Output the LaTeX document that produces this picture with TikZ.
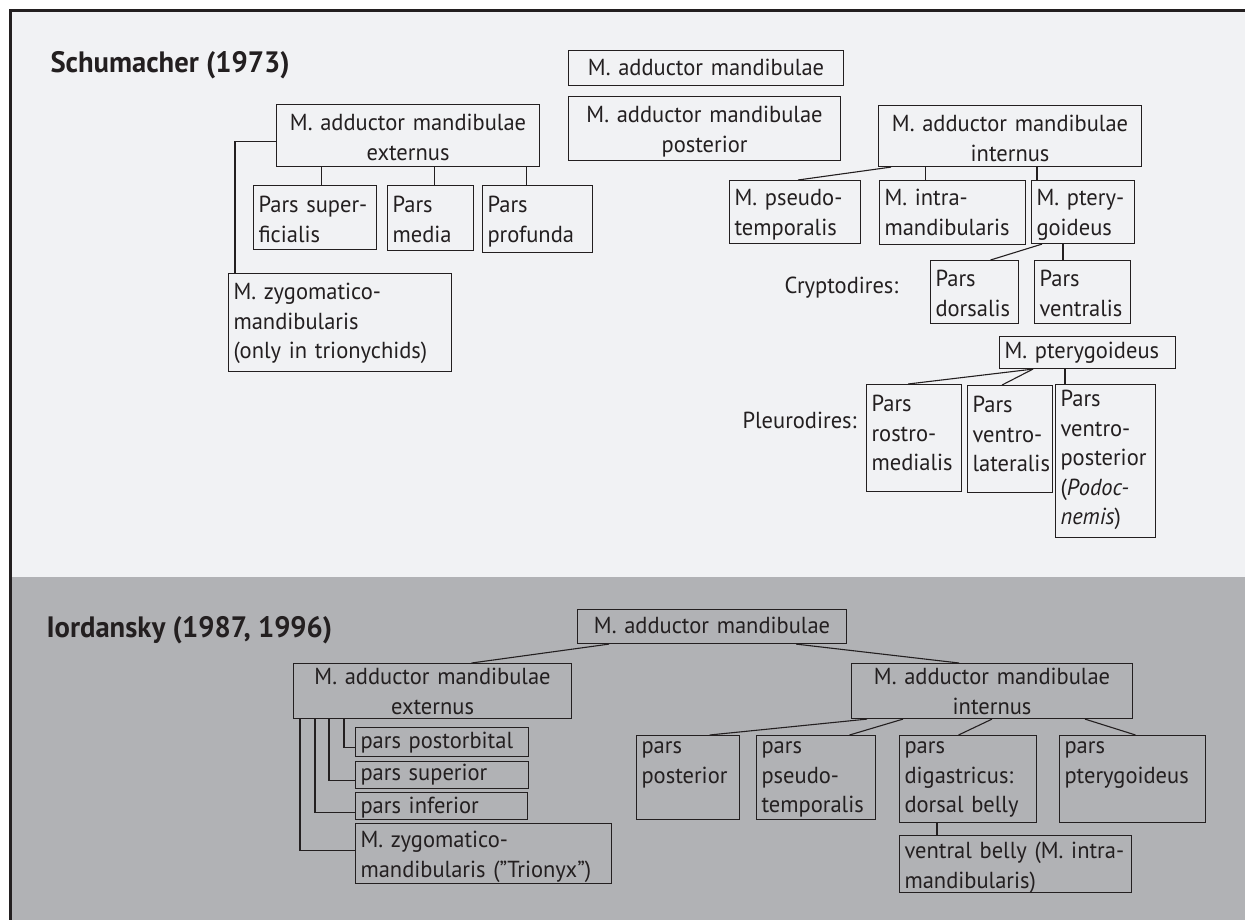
\documentclass[tikz,border=0pt]{standalone}
\usepackage{fontspec}
\setmainfont{PT Sans}[FakeStretch=0.97]

\definecolor{ink}{HTML}{231F20}
\definecolor{paleback}{HTML}{F1F2F4}
\definecolor{greyback}{HTML}{B1B2B5}

\begin{document}
\begin{tikzpicture}[x=1pt, y=-1pt,
    box/.style={draw=ink, line width=1.1pt, anchor=north west, inner xsep=5pt, inner ysep=0pt,
        align=left, text=ink, font=\fontsize{23.2}{29.5}\selectfont},
    mid/.style={box, align=center},
    link/.style={draw=ink, line width=1.1pt},
    title/.style={anchor=base west, text=ink, font=\fontsize{29.5}{34}\selectfont\bfseries},
    tag/.style={anchor=base west, text=ink, font=\fontsize{23.2}{29.5}\selectfont}]

    \useasboundingbox (0,0) rectangle (1245,920);
    \fill[white] (0,0) rectangle (1245,920);
    \fill[paleback] (10,11) rectangle (1245,577);
    \fill[greyback] (10,577) rectangle (1245,920);
    \draw[ink, line width=3pt] (1245,11) -- (10,11) -- (10,920);

    % Schumacher (1973)
    \node[title] (schu) at (47,73) {Schumacher (1973)};
    \node[mid, text width=265pt, text height=25pt, text depth=10pt] (amA) at (568,50) {M. adductor mandibulae};
    \node[mid, text width=262pt, text height=26pt, text depth=38pt] (amP) at (568,96) {M. adductor mandibulae\\posterior};

    \node[mid, text width=253pt, text height=26pt, text depth=36pt] (ameS) at (276,104) {M. adductor mandibulae\\externus};
    \node[box, text width=113pt, text height=27pt, text depth=37pt] (pSup) at (253,185) {\mbox{Pars super-}\\ficialis};
    \node[box, text width=76pt, text height=27pt, text depth=38pt] (pMed) at (387,185) {Pars\\media};
    \node[box, text width=100pt, text height=27pt, text depth=40pt] (pPro) at (482,185) {Pars\\profunda};
    \node[box, text width=213pt, text height=26pt, text depth=72pt] (zygS) at (228,273) {M. zygomatico-\\mandibularis\\(only in trionychids)};

    \draw[link] ([yshift=-6pt]ameS.west) -| ([xshift=7pt]zygS.north west);
    \draw[link] ([xshift=6pt]pSup.north) -- ([xshift=6pt]pSup.north |- ameS.south);
    \draw[link] ([xshift=4pt]pMed.north) -- ([xshift=4pt]pMed.north |- ameS.south);
    \draw[link] ([xshift=-11pt]pPro.north) -- ([xshift=-11pt]pPro.north |- ameS.south);

    \node[mid, text width=253pt, text height=26pt, text depth=35pt] (amiS) at (878,105) {M. adductor mandibulae\\internus};
    \node[box, text width=121pt, text height=25pt, text depth=38pt] (pseuS) at (729,180) {M. pseudo-\\temporalis};
    \node[box, text width=136pt, text height=25pt, text depth=39pt] (intraS) at (879,180) {M. intra-\\mandibularis};
    \node[box, text width=93pt, text height=25pt, text depth=38pt] (ptS) at (1031,180) {M. ptery-\\goideus};

    \draw[link] ([xshift=13pt]amiS.south west) -- ([xshift=3pt]pseuS.north);
    \draw[link] ([xshift=-27pt]intraS.north) -- ([xshift=-27pt]intraS.north |- amiS.south);
    \draw[link] ([xshift=6pt]ptS.north west) -- ([xshift=6pt]ptS.north west |- amiS.south);

    \node[tag] (crypt) at (781,293) {Cryptodires:};
    \node[box, text width=78pt, text height=26pt, text depth=37pt] (dorS) at (930,260) {Pars\\dorsalis};
    \node[box, text width=86pt, text height=26pt, text depth=37pt] (venS) at (1034,260) {Pars\\ventralis};

    \draw[link] ([xshift=11pt]ptS.south west) -- ([xshift=16pt]dorS.north);
    \draw[link] ([xshift=29pt]venS.north west) -- ([xshift=29pt]venS.north west |- ptS.south);

    \node[box, text width=166pt, text height=22pt, text depth=10pt] (pt2S) at (999,336) {M. pterygoideus};
    \node[tag] (pleur) at (739,428) {Pleurodires:};
    \node[box, text width=85pt, text height=27pt, text depth=80pt] (rosS) at (866,384) {Pars\\rostro-\\medialis};
    \node[box, text width=75pt, text height=27pt, text depth=80pt] (vlS) at (967,385) {Pars\\ventro-\\lateralis};
    \node[box, text width=90pt, text height=22pt, text depth=131pt] (vpS) at (1055,384) {Pars\\ventro-\\posterior\\(\textit{Podoc-}\\\textit{nemis})};

    \draw[link] ([xshift=34pt]pt2S.south west) -- ([xshift=-6pt]rosS.north);
    \draw[link] ([xshift=34pt]pt2S.south west) -- ([xshift=-8pt]vlS.north);
    \draw[link] ([xshift=10pt]vpS.north west) -- ([xshift=10pt]vpS.north west |- pt2S.south);

    % Iordansky (1987, 1996)
    \node[title] (iord) at (43,637) {Iordansky (1987, 1996)};
    \node[mid, text width=259pt, text height=24pt, text depth=10pt] (amB) at (577,609) {M. adductor mandibulae};
    \node[mid, text width=268pt, text height=21pt, text depth=34pt] (ameB) at (293,663) {M. adductor mandibulae\\externus};
    \node[mid, text width=271pt, text height=21pt, text depth=34pt] (amiB) at (851,663) {M. adductor mandibulae\\internus};

    \draw[link] ([xshift=32pt]amB.south west) -- ([xshift=39pt]ameB.north);
    \draw[link] ([xshift=-51pt]amB.south east) -- ([xshift=-33pt]amiB.north);

    \node[box, text width=163pt, text height=21pt, text depth=8pt] (ppoB) at (355,727) {pars postorbital};
    \node[box, text width=163pt, text height=19pt, text depth=8pt] (psuB) at (355,761) {pars superior};
    \node[box, text width=162pt, text height=21pt, text depth=6pt] (pinB) at (355,792) {pars inferior};
    \node[box, text width=246pt, text height=24pt, text depth=36pt] (zygB) at (355,823) {M. zygomatico-\\mandibularis ("Trionyx")};

    \draw[link] ([xshift=51pt]ameB.south west) |- ([yshift=-5pt]ppoB.west);
    \draw[link] ([xshift=36pt]ameB.south west) |- ([yshift=-5pt]psuB.west);
    \draw[link] ([xshift=22pt]ameB.south west) |- ([yshift=-6pt]pinB.west);
    \draw[link] ([xshift=7pt]ameB.south west) |- ([yshift=3pt]zygB.west);

    \node[box, text width=93pt, text height=18pt, text depth=66pt] (pposB) at (636,735) {pars\\posterior};
    \node[box, text width=109pt, text height=18pt, text depth=66pt] (ppsB) at (756,735) {pars\\pseudo-\\temporalis};
    \node[box, text width=127pt, text height=18pt, text depth=69pt] (pdgB) at (899,735) {pars\\digastricus:\\dorsal belly};
    \node[box, text width=136pt, text height=18pt, text depth=69pt] (pptB) at (1059,735) {pars\\pterygoideus};
    \node[box, text width=222pt, text height=23pt, text depth=34pt] (vbB) at (899,835) {\mbox{ventral belly (M. intra-}\\mandibularis)};

    \draw[link] ([xshift=16pt]amiB.south west) -- ([xshift=21.5pt]pposB.north);
    \draw[link] ([xshift=52pt]amiB.south west) -- ([xshift=33.5pt]ppsB.north);
    \draw[link] ([xshift=141pt]amiB.south west) -- ([xshift=-9.5pt]pdgB.north);
    \draw[link] ([xshift=234pt]amiB.south west) -- ([xshift=3pt]pptB.north);
    \draw[link] ([xshift=38pt]pdgB.south west) -- ([xshift=38pt]vbB.north west);
\end{tikzpicture}
\end{document}
